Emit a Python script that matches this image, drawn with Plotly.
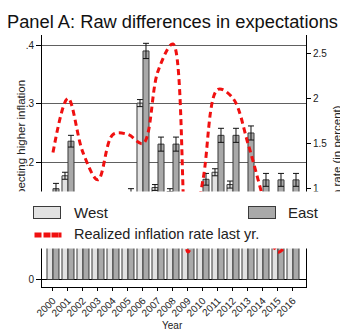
import plotly.graph_objects as go

# ---------------- data ----------------
years = list(range(2000, 2017))
west = [0.12, 0.177, 0.12, 0.115, 0.115, 0.12, 0.301, 0.157, 0.15, 0.12,
        0.12, 0.183, 0.162, 0.125, 0.115, 0.115, 0.115]
west_err = [0.006, 0.006, 0.006, 0.006, 0.006, 0.006, 0.006, 0.005, 0.005, 0.006,
            0.006, 0.006, 0.006, 0.006, 0.006, 0.006, 0.006]
east = [0.155, 0.236, 0.12, 0.12, 0.12, 0.145, 0.39, 0.231, 0.231, 0.12,
        0.171, 0.246, 0.246, 0.25, 0.17, 0.17, 0.17]
east_err = [0.009, 0.01, 0.01, 0.01, 0.01, 0.01, 0.013, 0.012, 0.012, 0.01,
            0.01, 0.012, 0.012, 0.012, 0.011, 0.011, 0.011]
inflation = [1.4, 2.0, 1.4, 1.1, 1.6, 1.6, 1.5, 2.3, 2.6, 0.3,
             1.1, 2.1, 2.0, 1.5, 0.9, 0.3, 0.5]

year_labels = [str(y) for y in years]
left_ticks = [0, 0.1, 0.2, 0.3, 0.4]
left_ticktext = ["0", ".1", ".2", ".3", ".4"]
right_ticks = [0.5, 1, 1.5, 2, 2.5]
right_ticktext = [".5", "1", "1.5", "2", "2.5"]

title_text = "Panel A: Raw differences in expectations"
left_title = "Share expecting higher inflation"
right_title = "Inflation rate (in percent)"
x_title = "Year"
legend_labels = ["West", "East", "Realized inflation rate last yr."]

# ---------------- layout helpers ----------------
W, H = 340, 331
ML, MR, MT, MB = 42, 34, 35, 44
PW, PH = W - ML - MR, H - MT - MB


def px(x):
    return (x - ML) / PW


def py(y):
    return (H - MB - y) / PH


FONT = "Liberation Sans, Arial, sans-serif"
TXT = "#222222"
WEST_C = "#e2e2e2"
EAST_C = "#a9a9a9"
EDGE = "#3a3a3a"
RED = "#f01010"

fig = go.Figure()
fig.add_bar(x=years, y=west, name=legend_labels[0], showlegend=False,
            marker=dict(color=WEST_C, line=dict(color=EDGE, width=1)),
            error_y=dict(type="data", array=west_err, color="#111111",
                         thickness=1, width=3))
fig.add_bar(x=years, y=east, name=legend_labels[1], showlegend=False,
            marker=dict(color=EAST_C, line=dict(color=EDGE, width=1)),
            error_y=dict(type="data", array=east_err, color="#111111",
                         thickness=1, width=3))
fig.add_scatter(x=years, y=inflation, yaxis="y2", mode="lines",
                name=legend_labels[2], showlegend=False,
                line=dict(color=RED, width=3, dash="6px,4px", shape="spline"))

annotations = [
    dict(text=left_title, textangle=-90, x=px(21), y=py(161),
         font=dict(size=11.5, color=TXT)),
    dict(text=right_title, textangle=-90, x=px(337), y=py(168),
         font=dict(size=11.5, color=TXT)),
    dict(text=x_title, x=px(172), y=py(325.5), font=dict(size=10, color=TXT)),
    # legend box (white, drawn over the plot)
    dict(text=" ", x=px(170), y=py(220), width=340, height=56,
         bgcolor="white"),
    dict(text=" ", x=px(47), y=py(212.5), width=26, height=11,
         bgcolor=WEST_C, bordercolor=EDGE, borderwidth=1),
    dict(text=legend_labels[0], x=px(73), y=py(212.5), xanchor="left",
         font=dict(size=15, color=TXT)),
    dict(text=" ", x=px(261.5), y=py(212.5), width=26, height=11,
         bgcolor=EAST_C, bordercolor=EDGE, borderwidth=1),
    dict(text=legend_labels[1], x=px(287), y=py(212.5), xanchor="left",
         font=dict(size=15, color=TXT)),
    dict(text=legend_labels[2], x=px(73), y=py(234), xanchor="left",
         font=dict(size=14.5, color=TXT)),
]
for cx, w in [(38, 6), (46.5, 6), (55, 6), (59.5, 1.5)]:
    annotations.append(dict(text=" ", x=px(cx), y=py(234.5), width=w, height=3.5,
                            bgcolor=RED))
for a in annotations:
    a.setdefault("xref", "paper")
    a.setdefault("yref", "paper")
    a.setdefault("showarrow", False)
    a.setdefault("xanchor", "center")
    a.setdefault("yanchor", "middle")
    a.setdefault("borderpad", 0)
    a.setdefault("font", dict(size=10, color=TXT))

fig.update_layout(
    width=W, height=H,
    margin=dict(l=ML, r=MR, t=MT, b=MB, pad=0),
    paper_bgcolor="white", plot_bgcolor="white",
    font=dict(family=FONT, color=TXT),
    barmode="group", bargap=0.2, bargroupgap=0,
    title=dict(text=title_text, xref="container", x=7 / W, xanchor="left",
               yref="container", y=1 - 22 / H, yanchor="middle",
               font=dict(size=18.3, color="#111111")),
    xaxis=dict(range=[1999.267, 2016.867], tickmode="array", tickvals=years,
               ticktext=year_labels, tickangle=-45,
               tickfont=dict(size=10, color=TXT), showgrid=False,
               zeroline=False, showline=True, linecolor="black", linewidth=1,
               ticks="outside", ticklen=3, tickcolor="black"),
    yaxis=dict(range=[-0.0128, 0.4172], tickmode="array", tickvals=left_ticks,
               ticktext=left_ticktext, tickfont=dict(size=10, color=TXT),
               showgrid=True, gridcolor="#606060", gridwidth=1,
               zeroline=True, zerolinecolor="black", zerolinewidth=1,
               showline=True, linecolor="black", linewidth=1,
               ticks="outside", ticklen=5, tickcolor="black"),
    yaxis2=dict(overlaying="y", side="right", range=[-0.086, 2.70],
                tickmode="array", tickvals=right_ticks, ticktext=right_ticktext,
                tickfont=dict(size=10, color=TXT), showgrid=False,
                zeroline=False, showline=True, linecolor="black", linewidth=1,
                ticks="outside", ticklen=4, tickcolor="black"),
    annotations=annotations,
)

fig.write_html("out.html")
